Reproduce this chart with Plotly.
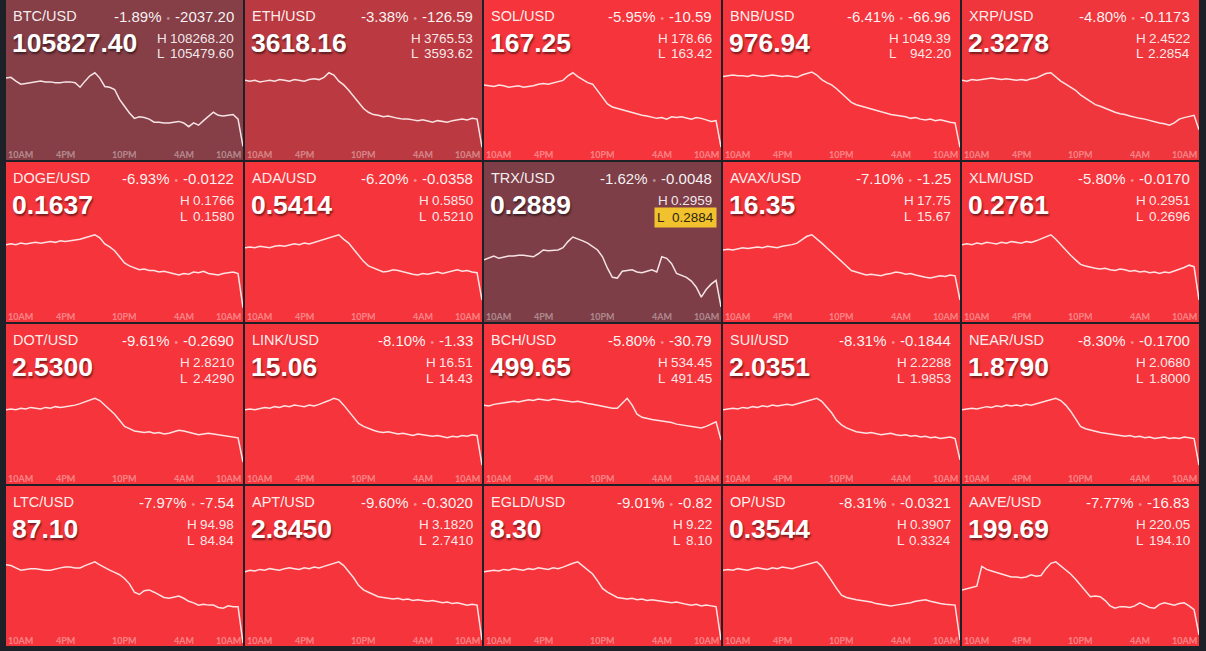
import plotly.graph_objects as go

# ---------------- data ----------------
PAIRS = ["BTC/USD", "ETH/USD", "SOL/USD", "BNB/USD", "XRP/USD",
         "DOGE/USD", "ADA/USD", "TRX/USD", "AVAX/USD", "XLM/USD",
         "DOT/USD", "LINK/USD", "BCH/USD", "SUI/USD", "NEAR/USD",
         "LTC/USD", "APT/USD", "EGLD/USD", "OP/USD", "AAVE/USD"]
PCT_CHANGE = [-1.89, -3.38, -5.95, -6.41, -4.80,
              -6.93, -6.20, -1.62, -7.10, -5.80,
              -9.61, -8.10, -5.80, -8.31, -8.30,
              -7.97, -9.60, -9.01, -8.31, -7.77]
ABS_CHANGE = ["-2037.20", "-126.59", "-10.59", "-66.96", "-0.1173",
              "-0.0122", "-0.0358", "-0.0048", "-1.25", "-0.0170",
              "-0.2690", "-1.33", "-30.79", "-0.1844", "-0.1700",
              "-7.54", "-0.3020", "-0.82", "-0.0321", "-16.83"]
LAST_PRICE = ["105827.40", "3618.16", "167.25", "976.94", "2.3278",
              "0.1637", "0.5414", "0.2889", "16.35", "0.2761",
              "2.5300", "15.06", "499.65", "2.0351", "1.8790",
              "87.10", "2.8450", "8.30", "0.3544", "199.69"]
HIGH_24H = ["108268.20", "3765.53", "178.66", "1049.39", "2.4522",
            "0.1766", "0.5850", "0.2959", "17.75", "0.2951",
            "2.8210", "16.51", "534.45", "2.2288", "2.0680",
            "94.98", "3.1820", "9.22", "0.3907", "220.05"]
LOW_24H = ["105479.60", "3593.62", "163.42", "942.20", "2.2854",
           "0.1580", "0.5210", "0.2884", "15.67", "0.2696",
           "2.4290", "14.43", "491.45", "1.9853", "1.8000",
           "84.84", "2.7410", "8.10", "0.3324", "194.10"]
LOW_HIGHLIGHT = ["TRX/USD"]

TIME_LABELS = ["10AM", "4PM", "10PM", "4AM", "10AM"]
TIME_LABEL_HOURS = [0, 6, 12, 18, 24]

# hours since 10AM, half-hour samples
HOURS = [0, 0.5, 1, 1.5, 2, 2.5, 3, 3.5, 4, 4.5, 5, 5.5, 6, 6.5, 7, 7.5,
         8, 8.5, 9, 9.5, 10, 10.5, 11, 11.5, 12, 12.5, 13, 13.5, 14, 14.5,
         15, 15.5, 16, 16.5, 17, 17.5, 18, 18.5, 19, 19.5, 20, 20.5, 21,
         21.5, 22, 22.5, 23, 23.5, 24]

# sparkline level, % of the 24h low->high band
BTC_SPARK = [92, 93, 88, 84, 85, 86, 87, 88, 87, 87, 86, 86, 87, 87, 86, 80, 88, 95, 99, 92, 81,
             80, 77, 64, 55, 46, 39, 41, 40, 38, 34, 34, 33, 33, 34, 35, 33, 28, 33, 30, 36, 42,
             47, 43, 42, 43, 44, 38, 2]
ETH_SPARK = [89, 88, 89, 87, 88, 89, 88, 90, 89, 88, 90, 89, 88, 90, 91, 90, 93, 99, 96, 88, 83,
             76, 68, 60, 52, 47, 44, 43, 41, 42, 40, 39, 38, 38, 37, 36, 37, 35, 34, 36, 35, 34,
             36, 37, 38, 37, 39, 38, 1]
SOL_SPARK = [83, 82, 81, 83, 82, 80, 81, 82, 80, 81, 82, 84, 85, 84, 86, 87, 89, 95, 99, 94, 90,
             86, 84, 75, 66, 58, 54, 52, 50, 48, 46, 44, 43, 42, 40, 39, 40, 38, 41, 40, 41, 39,
             38, 40, 39, 37, 35, 36, 1]
BNB_SPARK = [94, 95, 96, 95, 95, 94, 96, 95, 94, 95, 96, 95, 94, 95, 94, 93, 96, 98, 100, 96, 90,
             86, 83, 78, 72, 65, 60, 57, 55, 53, 51, 50, 48, 46, 44, 43, 42, 41, 39, 40, 38, 37,
             38, 36, 37, 35, 34, 33, 1]
XRP_SPARK = [89, 88, 90, 89, 90, 91, 92, 91, 90, 91, 90, 89, 90, 89, 91, 92, 95, 98, 99, 93, 88,
             84, 80, 76, 70, 66, 62, 57, 55, 52, 49, 47, 45, 44, 42, 40, 39, 38, 36, 34, 33, 32,
             30, 33, 38, 40, 42, 43, 24]
DOGE_SPARK = [86, 87, 86, 88, 87, 88, 89, 88, 89, 90, 89, 91, 90, 91, 92, 93, 95, 97, 99, 95, 87,
              83, 78, 70, 62, 58, 55, 53, 54, 52, 52, 50, 51, 49, 47, 46, 48, 47, 50, 49, 51, 48,
              47, 46, 48, 49, 50, 48, 3]
ADA_SPARK = [82, 83, 82, 84, 83, 82, 84, 85, 84, 86, 87, 86, 88, 87, 89, 90, 92, 95, 97, 99, 93,
             88, 80, 72, 64, 58, 55, 52, 50, 51, 53, 52, 50, 48, 47, 46, 48, 47, 49, 50, 48, 50,
             52, 53, 51, 52, 50, 49, 13]
TRX_SPARK = [66, 69, 71, 68, 70, 71, 71, 72, 72, 71, 70, 74, 79, 78, 79, 79, 82, 90, 96, 94, 91,
             88, 84, 79, 70, 55, 43, 42, 51, 52, 53, 50, 49, 51, 53, 50, 70, 68, 61, 48, 45, 43,
             38, 30, 17, 27, 34, 39, 4]
AVAX_SPARK = [79, 80, 79, 81, 82, 81, 82, 83, 82, 84, 83, 82, 84, 85, 86, 88, 92, 97, 99, 94, 88,
              82, 76, 70, 63, 57, 52, 50, 48, 46, 47, 46, 45, 47, 48, 50, 49, 47, 48, 46, 44, 43,
              42, 43, 45, 44, 46, 45, 13]
XLM_SPARK = [86, 87, 86, 88, 87, 89, 88, 87, 89, 88, 90, 89, 88, 90, 89, 91, 94, 97, 99, 93, 86,
             78, 72, 66, 60, 58, 56, 55, 54, 55, 53, 52, 54, 53, 51, 52, 50, 51, 49, 50, 48, 50,
             49, 51, 53, 56, 59, 57, 13]
DOT_SPARK = [82, 83, 82, 84, 83, 85, 84, 83, 85, 84, 86, 85, 86, 87, 88, 90, 92, 95, 97, 94, 88,
             83, 76, 68, 60, 57, 54, 53, 52, 53, 51, 52, 50, 51, 53, 55, 54, 52, 50, 49, 50, 51,
             50, 49, 48, 47, 46, 45, 13]
LINK_SPARK = [82, 83, 82, 84, 85, 84, 86, 85, 87, 86, 88, 87, 86, 88, 87, 89, 91, 94, 97, 95, 88,
              80, 72, 64, 60, 57, 55, 53, 52, 53, 51, 50, 51, 49, 48, 50, 49, 48, 47, 48, 46, 45,
              47, 46, 48, 47, 49, 48, 9]
BCH_SPARK = [88, 87, 89, 90, 91, 92, 93, 92, 94, 95, 94, 96, 95, 94, 96, 95, 94, 93, 92, 93, 91,
             90, 89, 88, 87, 85, 84, 84, 90, 97, 88, 76, 72, 70, 69, 68, 67, 66, 65, 63, 62, 61,
             60, 59, 58, 60, 63, 66, 42]
SUI_SPARK = [82, 83, 84, 83, 85, 84, 86, 85, 87, 86, 88, 87, 88, 89, 88, 90, 92, 94, 96, 97, 93,
             86, 78, 68, 62, 58, 55, 53, 52, 51, 52, 50, 49, 50, 51, 49, 48, 49, 47, 48, 46, 47,
             45, 46, 44, 45, 46, 44, 16]
NEAR_SPARK = [82, 83, 84, 83, 85, 86, 85, 87, 86, 88, 87, 88, 87, 89, 88, 90, 91, 93, 95, 97, 94,
              88, 80, 70, 60, 57, 55, 53, 52, 51, 50, 49, 48, 47, 48, 46, 47, 45, 46, 44, 45, 46,
              44, 45, 44, 46, 45, 44, 9]
LTC_SPARK = [91, 90, 87, 84, 85, 86, 86, 85, 84, 84, 86, 87, 88, 88, 87, 87, 90, 93, 95, 91, 87,
             84, 81, 78, 73, 66, 55, 52, 57, 58, 55, 51, 48, 47, 49, 50, 47, 43, 41, 38, 39, 38,
             38, 35, 34, 37, 36, 36, -12]
APT_SPARK = [82, 84, 83, 85, 84, 86, 85, 84, 86, 87, 86, 85, 87, 86, 88, 87, 89, 91, 94, 95, 90,
             82, 74, 64, 58, 55, 52, 49, 48, 47, 46, 47, 45, 46, 44, 45, 44, 43, 44, 42, 41, 42,
             40, 41, 39, 38, 39, 38, -8]
EGLD_SPARK = [82, 83, 84, 83, 85, 84, 86, 85, 84, 86, 85, 87, 86, 85, 87, 86, 88, 91, 93, 95, 90,
              85, 79, 70, 60, 55, 52, 48, 47, 46, 47, 45, 46, 44, 45, 44, 43, 42, 41, 42, 40, 39,
              38, 39, 37, 38, 37, 36, -8]
OP_SPARK = [84, 85, 84, 86, 85, 84, 86, 87, 86, 85, 87, 86, 88, 87, 86, 88, 90, 92, 94, 95, 89,
            80, 70, 60, 51, 48, 46, 45, 44, 43, 42, 40, 39, 38, 37, 38, 39, 40, 41, 43, 44, 45,
            43, 41, 40, 39, 38, 38, -8]
AAVE_SPARK = [58, 60, 61, 63, 89, 85, 83, 81, 79, 76, 75, 75, 74, 75, 78, 76, 77, 86, 93, 95, 90,
              84, 79, 72, 64, 57, 49, 50, 49, 44, 37, 34, 36, 36, 35, 37, 41, 38, 35, 34, 39, 41,
              40, 38, 40, 41, 37, 32, -1]

SPARKS = [BTC_SPARK, ETH_SPARK, SOL_SPARK, BNB_SPARK, XRP_SPARK,
          DOGE_SPARK, ADA_SPARK, TRX_SPARK, AVAX_SPARK, XLM_SPARK,
          DOT_SPARK, LINK_SPARK, BCH_SPARK, SUI_SPARK, NEAR_SPARK,
          LTC_SPARK, APT_SPARK, EGLD_SPARK, OP_SPARK, AAVE_SPARK]

# ---------------- style / layout ----------------
FIG_W, FIG_H = 1206, 651
BG = "#1d2127"
RED = (245, 53, 59)
NEUTRAL = (67, 67, 78)
FONT = "Liberation Sans, Arial, sans-serif"
N_COLS = 5
TILE_LEFT = 6
TILE_W = 237
TILE_H = 160
GAP = 2


def tile_color(pct):
    t = min(abs(pct) / 5.0, 1.0)
    rgb = [round(NEUTRAL[i] + t * (RED[i] - NEUTRAL[i])) for i in range(3)]
    return "rgb(%d,%d,%d)" % tuple(rgb)


def px(x):
    return x / FIG_W


def py(y):
    return 1 - y / FIG_H


def num_width(s, size=13.5):
    w = 0.0
    for ch in s:
        if ch == ".":
            w += 0.278 * size
        elif ch == "-":
            w += 0.333 * size
        else:
            w += 0.556 * size
    return w


fig = go.Figure()
shapes = []
annotations = []


def ann(x, y, text, size, color, xanchor="left", weight="normal", family=FONT,
        shadow="none", bgcolor=None, borderpad=1, xref="paper"):
    d = dict(xref=xref, yref="paper", x=x if xref != "paper" else px(x), y=py(y),
             text=text, showarrow=False, xanchor=xanchor, yanchor="middle",
             font=dict(family=family, size=size, color=color, weight=weight, shadow=shadow),
             borderpad=borderpad)
    if bgcolor:
        d["bgcolor"] = bgcolor
    annotations.append(d)


layout_axes = {}
for k, pair in enumerate(PAIRS):
    r, c = divmod(k, N_COLS)
    x0 = TILE_LEFT + c * (TILE_W + GAP)
    top = r * (TILE_H + GAP)
    sfx = "" if k == 0 else str(k + 1)

    shapes.append(dict(type="rect", xref="paper", yref="paper",
                       x0=px(x0), x1=px(x0 + TILE_W), y0=py(top + TILE_H), y1=py(top),
                       fillcolor=tile_color(PCT_CHANGE[k]), line=dict(width=0), layer="below"))

    fig.add_trace(go.Scatter(x=HOURS, y=SPARKS[k], mode="lines",
                             line=dict(color="rgba(255,240,240,0.93)", width=1.5),
                             xaxis="x" + sfx, yaxis="y" + sfx,
                             hoverinfo="skip", showlegend=False))
    layout_axes["xaxis" + sfx] = dict(domain=[px(x0), px(x0 + TILE_W)], range=[0, 24],
                                      visible=False, fixedrange=True, anchor="y" + sfx)
    layout_axes["yaxis" + sfx] = dict(domain=[py(top + TILE_H), py(top + 68.2)],
                                      range=[-15.8, 105], visible=False, fixedrange=True,
                                      anchor="x" + sfx)

    right = x0 + TILE_W - 7
    # header
    ann(x0 + 5, top + 16, pair, 14.5, "rgba(255,255,255,0.93)")
    chg = ("%.2f%%" % PCT_CHANGE[k]
           + "<span style='color:rgba(255,255,255,0.45);font-size:10px'>\u2002\u2022\u2002</span>"
           + ABS_CHANGE[k])
    ann(right, top + 16, chg, 15, "rgba(255,255,255,0.95)", xanchor="right")
    # big price
    ann(x0 + 4, top + 43, LAST_PRICE[k], 26.5, "#ffffff", weight="bold",
        shadow="1px 2px 2px rgba(0,0,0,0.5)")
    # high / low
    hv, lv = HIGH_24H[k], LOW_24H[k]
    maxw = max(num_width(hv), num_width(lv))
    letter_x = right - maxw - 17
    ann(letter_x, top + 38, "H", 13.5, "rgba(255,255,255,0.9)")
    ann(right, top + 38, hv, 13.5, "rgba(255,255,255,0.9)", xanchor="right")
    if pair in LOW_HIGHLIGHT:
        ann(right + 3, top + 56, "L&nbsp;&nbsp;" + lv, 13.5, "#2e2610", xanchor="right",
            bgcolor="#f2c12e", borderpad=2)
    else:
        ann(letter_x, top + 54, "L", 13.5, "rgba(255,255,255,0.9)")
        ann(right, top + 54, lv, 13.5, "rgba(255,255,255,0.9)", xanchor="right")
    # time labels
    for j, (lab, hr) in enumerate(zip(TIME_LABELS, TIME_LABEL_HOURS)):
        xa = "left" if j == 0 else ("right" if j == len(TIME_LABELS) - 1 else "center")
        ann(hr, top + 154.5, lab, 9, "rgba(255,255,255,0.4)", xanchor=xa,
            weight="bold", family="Lato, sans-serif", xref="x" + sfx)

fig.update_layout(
    width=FIG_W, height=FIG_H,
    margin=dict(l=0, r=0, t=0, b=0),
    paper_bgcolor=BG, plot_bgcolor="rgba(0,0,0,0)",
    showlegend=False, shapes=shapes, annotations=annotations,
    hovermode=False,
    **layout_axes,
)

fig.write_html("out.html", config={"displayModeBar": False},
               post_script="document.body.style.margin='0';"
                           "document.body.style.overflow='hidden';")
